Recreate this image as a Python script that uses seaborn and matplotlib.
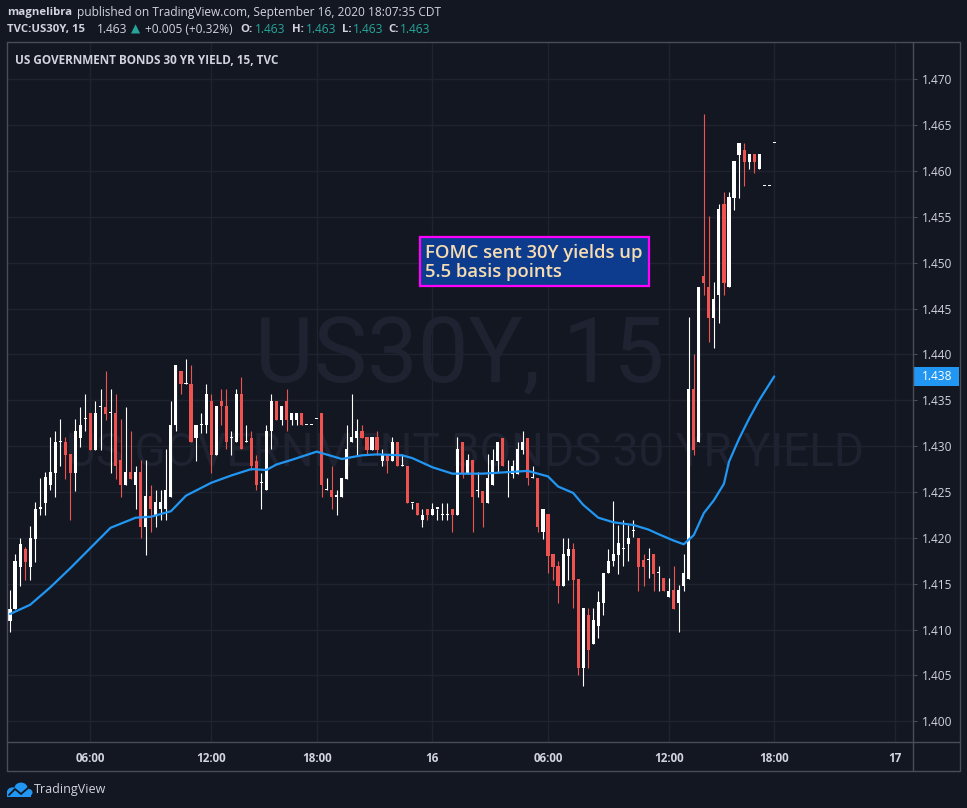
import numpy as np
import pandas as pd
import seaborn as sns
import matplotlib.pyplot as plt
from matplotlib.lines import Line2D
from matplotlib.patches import Rectangle, Circle

# 15 minute bars of TVC:US30Y
opens = [1.4109, 1.4122, 1.4168, 1.4188, 1.4168, 1.4199, 1.4232, 1.4238, 1.4258, 1.4271,
         1.4304, 1.4304, 1.4291, 1.4271, 1.4309, 1.4330, 1.4336, 1.4296, 1.4343, 1.4343,
         1.4336, 1.4336, 1.4285, 1.4258, 1.4272, 1.4258, 1.4272, 1.4212, 1.4246, 1.4225,
         1.4232, 1.4232, 1.4245, 1.4323, 1.4382, 1.4368, 1.4368, 1.4309, 1.4323, 1.4323,
         1.4349, 1.4290, 1.4349, 1.4344, 1.4309, 1.4304, 1.4357, 1.4304, 1.4309, 1.4284,
         1.4260, 1.4252, 1.4317, 1.4349, 1.4329, 1.4349, 1.4329, 1.4329, 1.4336, 1.4323,
         1.4323, 1.4330, 1.4336, 1.4252, 1.4252, 1.4245, 1.4245, 1.4264, 1.4304, 1.4309,
         1.4317, 1.4310, 1.4296, 1.4310, 1.4284, 1.4291, 1.4284, 1.4304, 1.4278, 1.4278,
         1.4238, 1.4238, 1.4219, 1.4232, 1.4225, 1.4232, 1.4225, 1.4225, 1.4232, 1.4225,
         1.4304, 1.4270, 1.4285, 1.4251, 1.4251, 1.4238, 1.4258, 1.4284, 1.4309, 1.4272,
         1.4270, 1.4270, 1.4296, 1.4309, 1.4265, 1.4265, 1.4206, 1.4226, 1.4182, 1.4169,
         1.4148, 1.4180, 1.4188, 1.4155, 1.4058, 1.4116, 1.4084, 1.4104, 1.4129, 1.4162,
         1.4175, 1.4181, 1.4188, 1.4193, 1.4207, 1.4200, 1.4176, 1.4176, 1.4182, 1.4162,
         1.4156, 1.4136, 1.4143, 1.4129, 1.4148, 1.4155, 1.4362, 1.4304, 1.4486, 1.4474,
         1.4440, 1.4465, 1.4564, 1.4473, 1.4571, 1.4617, 1.4623, 1.4610, 1.4618, 1.4602,
         1.4584, 1.4584, 1.4630]
highs = [1.4143, 1.4182, 1.4200, 1.4190, 1.4213, 1.4239, 1.4265, 1.4272, 1.4310, 1.4317,
         1.4330, 1.4310, 1.4291, 1.4330, 1.4343, 1.4357, 1.4336, 1.4349, 1.4362, 1.4382,
         1.4362, 1.4357, 1.4330, 1.4343, 1.4317, 1.4278, 1.4285, 1.4285, 1.4258, 1.4252,
         1.4252, 1.4297, 1.4349, 1.4388, 1.4382, 1.4395, 1.4388, 1.4323, 1.4336, 1.4368,
         1.4357, 1.4344, 1.4362, 1.4362, 1.4317, 1.4362, 1.4375, 1.4323, 1.4317, 1.4290,
         1.4271, 1.4323, 1.4357, 1.4349, 1.4344, 1.4362, 1.4336, 1.4336, 1.4336, 1.4323,
         1.4323, 1.4330, 1.4336, 1.4265, 1.4278, 1.4252, 1.4265, 1.4323, 1.4357, 1.4330,
         1.4323, 1.4310, 1.4310, 1.4317, 1.4297, 1.4291, 1.4310, 1.4304, 1.4291, 1.4278,
         1.4238, 1.4238, 1.4232, 1.4232, 1.4238, 1.4232, 1.4238, 1.4238, 1.4232, 1.4310,
         1.4304, 1.4291, 1.4285, 1.4272, 1.4251, 1.4291, 1.4297, 1.4304, 1.4309, 1.4285,
         1.4285, 1.4304, 1.4317, 1.4309, 1.4278, 1.4265, 1.4232, 1.4226, 1.4182, 1.4175,
         1.4200, 1.4200, 1.4194, 1.4155, 1.4123, 1.4123, 1.4123, 1.4142, 1.4162, 1.4188,
         1.4240, 1.4214, 1.4220, 1.4214, 1.4220, 1.4200, 1.4182, 1.4189, 1.4182, 1.4169,
         1.4156, 1.4156, 1.4169, 1.4149, 1.4182, 1.4441, 1.4401, 1.4474, 1.4662, 1.4551,
         1.4479, 1.4564, 1.4577, 1.4577, 1.4611, 1.4631, 1.4631, 1.4618, 1.4618, 1.4618,
         1.4584, 1.4584, 1.4630]
lows = [1.4097, 1.4122, 1.4148, 1.4154, 1.4154, 1.4174, 1.4225, 1.4225, 1.4252, 1.4245,
        1.4278, 1.4264, 1.4219, 1.4251, 1.4299, 1.4317, 1.4296, 1.4296, 1.4296, 1.4329,
        1.4271, 1.4264, 1.4245, 1.4258, 1.4264, 1.4232, 1.4200, 1.4181, 1.4206, 1.4212,
        1.4219, 1.4219, 1.4245, 1.4317, 1.4357, 1.4368, 1.4304, 1.4284, 1.4314, 1.4314,
        1.4271, 1.4290, 1.4323, 1.4297, 1.4290, 1.4304, 1.4297, 1.4304, 1.4274, 1.4252,
        1.4232, 1.4252, 1.4297, 1.4329, 1.4323, 1.4317, 1.4323, 1.4323, 1.4323, 1.4323,
        1.4323, 1.4330, 1.4245, 1.4252, 1.4232, 1.4225, 1.4245, 1.4264, 1.4304, 1.4290,
        1.4309, 1.4290, 1.4296, 1.4290, 1.4278, 1.4271, 1.4284, 1.4278, 1.4278, 1.4238,
        1.4232, 1.4225, 1.4212, 1.4219, 1.4225, 1.4219, 1.4219, 1.4219, 1.4206, 1.4225,
        1.4265, 1.4270, 1.4206, 1.4245, 1.4212, 1.4238, 1.4258, 1.4272, 1.4278, 1.4245,
        1.4265, 1.4270, 1.4291, 1.4258, 1.4265, 1.4206, 1.4199, 1.4162, 1.4154, 1.4129,
        1.4148, 1.4154, 1.4123, 1.4051, 1.4039, 1.4058, 1.4084, 1.4091, 1.4116, 1.4162,
        1.4169, 1.4161, 1.4169, 1.4175, 1.4201, 1.4142, 1.4148, 1.4156, 1.4142, 1.4142,
        1.4142, 1.4136, 1.4122, 1.4097, 1.4142, 1.4155, 1.4290, 1.4304, 1.4465, 1.4414,
        1.4407, 1.4434, 1.4465, 1.4473, 1.4558, 1.4571, 1.4584, 1.4602, 1.4598, 1.4602,
        1.4584, 1.4584, 1.4630]
closes = [1.4122, 1.4175, 1.4193, 1.4174, 1.4200, 1.4232, 1.4232, 1.4266, 1.4272, 1.4304,
          1.4304, 1.4290, 1.4271, 1.4317, 1.4323, 1.4330, 1.4296, 1.4336, 1.4343, 1.4335,
          1.4336, 1.4278, 1.4258, 1.4272, 1.4264, 1.4272, 1.4212, 1.4246, 1.4232, 1.4239,
          1.4239, 1.4252, 1.4323, 1.4388, 1.4368, 1.4368, 1.4304, 1.4323, 1.4323, 1.4357,
          1.4290, 1.4344, 1.4344, 1.4304, 1.4309, 1.4357, 1.4297, 1.4304, 1.4278, 1.4258,
          1.4260, 1.4317, 1.4349, 1.4329, 1.4344, 1.4329, 1.4336, 1.4336, 1.4323, 1.4323,
          1.4323, 1.4330, 1.4258, 1.4252, 1.4245, 1.4245, 1.4265, 1.4297, 1.4310, 1.4317,
          1.4309, 1.4296, 1.4310, 1.4296, 1.4291, 1.4284, 1.4304, 1.4278, 1.4278, 1.4238,
          1.4238, 1.4225, 1.4225, 1.4225, 1.4232, 1.4232, 1.4225, 1.4225, 1.4225, 1.4297,
          1.4270, 1.4285, 1.4245, 1.4251, 1.4238, 1.4265, 1.4285, 1.4304, 1.4278, 1.4272,
          1.4278, 1.4297, 1.4304, 1.4265, 1.4265, 1.4212, 1.4232, 1.4180, 1.4168, 1.4148,
          1.4182, 1.4188, 1.4154, 1.4058, 1.4123, 1.4078, 1.4110, 1.4130, 1.4162, 1.4175,
          1.4182, 1.4194, 1.4188, 1.4200, 1.4207, 1.4168, 1.4168, 1.4176, 1.4161, 1.4162,
          1.4142, 1.4142, 1.4122, 1.4143, 1.4162, 1.4362, 1.4296, 1.4474, 1.4478, 1.4440,
          1.4460, 1.4559, 1.4478, 1.4572, 1.4611, 1.4631, 1.4610, 1.4618, 1.4610, 1.4618,
          1.4584, 1.4584, 1.4630]

# blue moving average, read at these bar numbers
ma_bars = [0, 4, 8, 12, 16, 20, 25, 28, 32, 35, 40, 44, 48, 51, 53, 56, 61, 66, 70, 73,
           78, 80, 84, 88, 94, 97, 103, 107, 109, 112, 114, 117, 120, 124, 127, 129, 132,
           134, 136, 138, 140, 142, 143, 145, 147, 149, 152]
ma_values = [1.4117, 1.4127, 1.4146, 1.4167, 1.4189, 1.4211, 1.4222, 1.4223, 1.4229, 1.4246,
             1.4260, 1.4268, 1.4275, 1.4274, 1.4280, 1.4285, 1.4294, 1.4286, 1.4290, 1.4291,
             1.4290, 1.4287, 1.4277, 1.4270, 1.4270, 1.4271, 1.4273, 1.4267, 1.4256, 1.4249,
             1.4236, 1.4222, 1.4217, 1.4214, 1.4209, 1.4204, 1.4197, 1.4193, 1.4203, 1.4227,
             1.4241, 1.4259, 1.4283, 1.4308, 1.4330, 1.4350, 1.4376]

time_tick_bars = [16, 40, 61, 84, 107, 131, 152, 176]
time_tick_labels = ['06:00', '12:00', '18:00', '16', '06:00', '12:00', '18:00', '17']
price_ticks = [1.400, 1.405, 1.410, 1.415, 1.420, 1.425, 1.430, 1.435,
               1.440, 1.445, 1.450, 1.455, 1.460, 1.465, 1.470]
ma_last_label = '1.438'

BG = '#131722'
GRID = '#1f2330'
FRAME = '#4a4d58'
TEXT = '#d1d4dc'
UP = '#ffffff'
DOWN = '#ef5350'
MA_COLOR = '#2196f3'
GREEN = '#26a69a'

W, H = 967, 808

sns.set_theme(style='dark', rc={'axes.facecolor': BG, 'figure.facecolor': BG,
                                'savefig.facecolor': BG})
plt.rcParams['font.family'] = ['Open Sans', 'DejaVu Sans']


def fx(x):
    return x / W


def fy(y):
    return 1 - y / H


fig = plt.figure(figsize=(W / 100, H / 100), dpi=100)
ax = fig.add_axes([fx(6.5), fy(742.3), (912.5 - 6.5) / W, (742.3 - 42.3) / H])
ax.set_facecolor(BG)

df = pd.DataFrame({'open': opens, 'high': highs, 'low': lows, 'close': closes})
df['bar'] = np.arange(len(df))
df['up'] = df['close'] >= df['open']
df['color'] = np.where(df['up'], UP, DOWN)
df['bottom'] = df[['open', 'close']].min(axis=1)
df['height'] = (df['close'] - df['open']).abs().clip(lower=0.00012)

# watermark
ax.text(0.5005, 0.5147, 'US30Y, 15', transform=ax.transAxes, ha='center', va='baseline',
        fontsize=65, family='Roboto', color='#1f2331', zorder=0.6)
ax.text(0.506, 0.3947, 'US GOVERNMENT BONDS 30 YR YIELD', transform=ax.transAxes,
        ha='center', va='baseline', fontsize=33, family='Roboto', color='#1f2331', zorder=0.6)

ax.vlines(df['bar'], df['low'], df['high'], colors=df['color'], lw=0.8, zorder=2)
ax.bar(df['bar'], df['height'], bottom=df['bottom'], width=0.62, color=df['color'],
       linewidth=0, zorder=3)

sns.lineplot(x=ma_bars, y=ma_values, ax=ax, color=MA_COLOR, lw=1.6, zorder=4)

ax.set_xlim(-0.7, 179.5)
ax.set_ylim(1.39771, 1.47403)
ax.set_xticks(time_tick_bars, labels=time_tick_labels)
ax.set_yticks(price_ticks, labels=[f'{p:.3f}' for p in price_ticks])
ax.yaxis.tick_right()
ax.grid(True, color=GRID, lw=1)
ax.set_axisbelow(True)
ax.tick_params(axis='x', length=2.2, width=0.8, color=FRAME, pad=4.5,
               labelcolor=TEXT, labelsize=8.4)
ax.tick_params(axis='y', length=2.9, width=0.8, color=FRAME, pad=3.6,
               labelcolor=TEXT, labelsize=8.6)
for lab in ax.get_xticklabels():
    lab.set_fontweight('bold')
for s in ax.spines.values():
    s.set_visible(False)
ax.set_xlabel('')
ax.set_ylabel('')

# frame of the chart pane
for (x0, y0, x1, y1) in [(6.5, 42.3, 960, 42.3), (6.5, 42.3, 6.5, 771), (960, 42.3, 960, 771),
                         (6.5, 771, 960, 771), (912.5, 42.3, 912.5, 771),
                         (6.5, 742.3, 960, 742.3)]:
    fig.add_artist(Line2D([fx(x0), fx(x1)], [fy(y0), fy(y1)], color=FRAME, lw=1))

# last value of the moving average on the price scale
fig.add_artist(Rectangle((fx(912.7), fy(385.7)), fx(959.3) - fx(912.7), (385.7 - 366.7) / H,
                         facecolor=MA_COLOR, edgecolor='none'))
fig.text(fx(921.7), fy(376.5), ma_last_label, color='white', fontsize=8.6,
         va='center', ha='left')

# header lines
fs = 8.6
fsb = 8.2
fig.text(fx(6.7), fy(12.5), 'magnelibra', color=TEXT, fontsize=fsb, fontweight='bold', va='center')
fig.text(fx(77), fy(12.5), 'published on TradingView.com, September 16, 2020 18:07:35 CDT',
         color=TEXT, fontsize=fs, va='center')
header2 = [(6.7, 'TVC:US30Y, 15', TEXT, 'bold'), (96.7, '1.463', TEXT, 'normal'),
           (131.2, '▲', GREEN, 'normal'), (145, '+0.005 (+0.32%)', TEXT, 'normal'),
           (240.7, 'O:', TEXT, 'bold'), (255, '1.463', GREEN, 'normal'),
           (291.7, 'H:', TEXT, 'bold'), (306, '1.463', GREEN, 'normal'),
           (341.7, 'L:', TEXT, 'bold'), (352.7, '1.463', GREEN, 'normal'),
           (388.3, 'C:', TEXT, 'bold'), (400, '1.463', GREEN, 'normal')]
for x, txt, col, wt in header2:
    fig.text(fx(x), fy(29.5), txt, color=col, fontsize=fsb if wt == 'bold' else fs,
             fontweight=wt, va='center')

fig.text(fx(15), fy(61), 'US GOVERNMENT BONDS 30 YR YIELD, 15, TVC', color=TEXT,
         fontsize=8.5, fontweight='bold', va='center')

# annotation box
fig.add_artist(Rectangle((fx(420), fy(286)), fx(649.3) - fx(420), (286 - 236.7) / H,
                         facecolor='#0d3c8e', edgecolor='#ff00ff', lw=1.6, zorder=5))
fig.text(fx(425), fy(258.3), 'FOMC sent 30Y yields up', color='#f6dcb0', fontsize=13.3,
         fontweight='semibold', va='baseline', zorder=6)
fig.text(fx(425), fy(277.3), '5.5 basis points', color='#f6dcb0', fontsize=13.3,
         fontweight='semibold', va='baseline', zorder=6)

# TradingView logo
for cx, cy, r in [(12.5, 792, 5.5), (21, 788, 6.5), (28, 792.5, 4.5)]:
    fig.add_artist(Circle((fx(cx), fy(cy)), r / W, facecolor=MA_COLOR, edgecolor='none'))
fig.add_artist(Rectangle((fx(7), fy(797)), fx(31) - fx(7), 6 / H, facecolor=MA_COLOR,
                         edgecolor='none'))
fig.add_artist(Line2D([fx(9), fx(15), fx(21), fx(28)], [fy(795), fy(789), fy(794), fy(788)],
                      color=BG, lw=1.3))
fig.text(fx(33.5), fy(789.5), 'TradingView', color=TEXT, fontsize=9, va='center')

fig.savefig('out.png', dpi=100, facecolor=BG)
